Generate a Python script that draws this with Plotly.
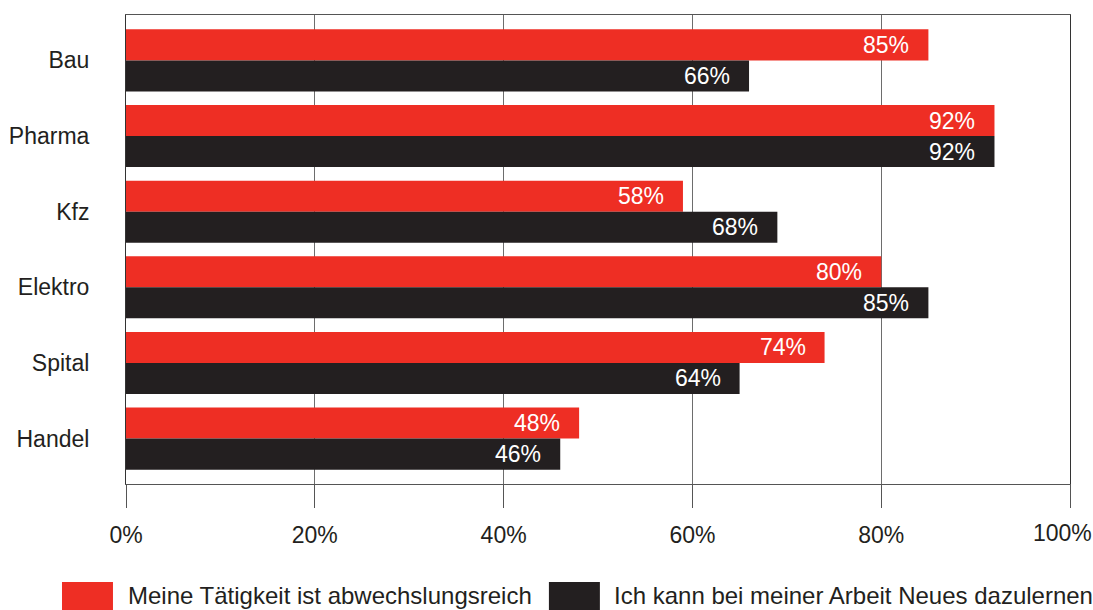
import plotly.graph_objects as go

categories = ["Bau", "Pharma", "Kfz", "Elektro", "Spital", "Handel"]
series_names = ["Meine Tätigkeit ist abwechslungsreich", "Ich kann bei meiner Arbeit Neues dazulernen"]
red_values = [85, 92, 59, 80, 74, 48]
black_values = [66, 92, 69, 85, 65, 46]
red_labels = ["85%", "92%", "58%", "80%", "74%", "48%"]
black_labels = ["66%", "92%", "68%", "85%", "64%", "46%"]
tick_vals = [0, 20, 40, 60, 80, 100]
tick_text = ["0%", "20%", "40%", "60%", "80%", "100%"]

RED = "#EE2E24"
BLACK = "#231F20"
FONT = "Liberation Sans, Arial, sans-serif"

fig = go.Figure()
fig.add_trace(go.Bar(y=categories, x=red_values, orientation="h", marker=dict(color=RED, line=dict(width=0)),
                     name=series_names[0], showlegend=False))
fig.add_trace(go.Bar(y=categories, x=black_values, orientation="h", marker=dict(color=BLACK, line=dict(width=0)),
                     name=series_names[1], showlegend=False))

annotations = []
for c, v, t in zip(categories, red_values, red_labels):
    annotations.append(dict(x=v, y=c, text=t, xanchor="right", yanchor="middle", xshift=-17, yshift=15.5,
                            showarrow=False, font=dict(color="white", size=23, family=FONT)))
for c, v, t in zip(categories, black_values, black_labels):
    annotations.append(dict(x=v, y=c, text=t, xanchor="right", yanchor="middle", xshift=-17, yshift=-15.5,
                            showarrow=False, font=dict(color="white", size=23, family=FONT)))

# last tick label drawn separately so it stays inside the page (as in the reference)
axis_text = tick_text[:-1] + [""]
annotations.append(dict(x=tick_vals[-1], xref="x", yref="paper", y=-0.1045, text=tick_text[-1],
                        xanchor="center", yanchor="middle", xshift=-8, showarrow=False,
                        font=dict(color=BLACK, size=23, family=FONT)))

# legend
shapes = [
    dict(type="rect", xref="paper", yref="paper", x0=-0.0678, x1=-0.0138, y0=-0.209, y1=-0.28,
         fillcolor=RED, line=dict(width=0)),
    dict(type="rect", xref="paper", yref="paper", x0=0.448, x1=0.502, y0=-0.209, y1=-0.28,
         fillcolor=BLACK, line=dict(width=0)),
]
annotations.append(dict(xref="paper", yref="paper", x=0.0, y=-0.238, text=series_names[0], xanchor="left",
                        yanchor="middle", showarrow=False, font=dict(color=BLACK, size=24, family=FONT)))
annotations.append(dict(xref="paper", yref="paper", x=0.515, y=-0.238, text=series_names[1], xanchor="left",
                        yanchor="middle", showarrow=False, font=dict(color=BLACK, size=24, family=FONT)))

fig.update_layout(
    width=1093, height=610,
    margin=dict(l=126, r=23, t=15, b=126),
    paper_bgcolor="white", plot_bgcolor="white",
    barmode="group", bargap=0.18, bargroupgap=0,
    font=dict(family=FONT, size=23, color=BLACK),
    annotations=annotations, shapes=shapes,
    xaxis=dict(range=[0, 100], tickvals=tick_vals, ticktext=axis_text, showgrid=True, gridcolor="#6d6d6d",
               gridwidth=1, showline=True, linecolor="#555", linewidth=1, mirror=True,
               ticks="outside", ticklen=23, tickcolor="#555", tickwidth=1, zeroline=False,
               tickfont=dict(size=23, color=BLACK), ticklabelstandoff=7, ticklabeloverflow="allow",
               automargin=False),
    yaxis=dict(categoryorder="array", categoryarray=categories, range=[5.6, -0.6], showgrid=False,
               showline=True, linecolor="#333", linewidth=1, mirror=True, ticks="", zeroline=False,
               tickfont=dict(size=23, color=BLACK), ticklabelstandoff=31, automargin=False),
)

fig.write_html("out.html", config={"displayModeBar": False},
               post_script="document.body.style.margin='0';document.body.style.overflow='hidden';")
